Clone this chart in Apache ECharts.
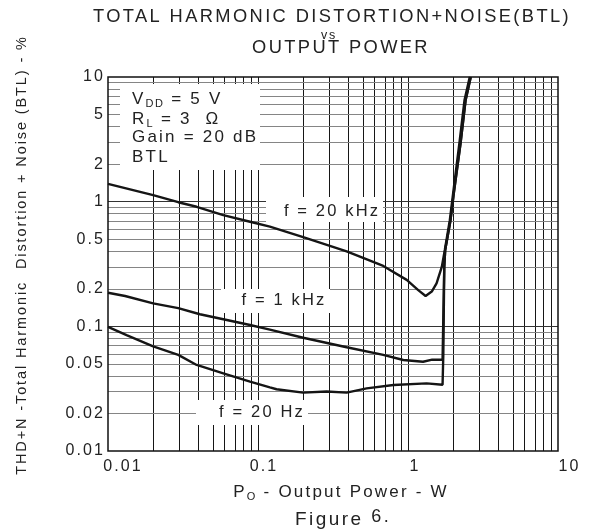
<!DOCTYPE html>
<html>
<head>
<meta charset="utf-8">
<script src="https://cdn.jsdelivr.net/npm/echarts@6/dist/echarts.min.js"></script>
<style>html,body{margin:0;padding:0;background:#fff;}#c{width:598px;height:532px;}</style>
</head>
<body>
<div id="c"></div>
<script>
// ---- data ----
const thd20k = [[0.01,1.39],[0.02,1.13],[0.0294,0.99],[0.039,0.91],[0.0587,0.78],[0.0885,0.69],[0.12,0.63],[0.2,0.52],[0.39,0.40],[0.684,0.305],[0.98,0.236],[1.17,0.195],[1.31,0.175],[1.44,0.19],[1.55,0.221],[1.68,0.30],[1.76,0.41],[1.9,0.71],[2.0,1.17],[2.2,2.94],[2.38,6.5],[2.58,10]];
const thd1k = [[0.01,0.186],[0.013,0.175],[0.02,0.153],[0.0294,0.140],[0.041,0.125],[0.0587,0.114],[0.0885,0.1025],[0.12,0.094],[0.2,0.081],[0.39,0.068],[0.684,0.059],[0.93,0.0537],[1.26,0.052],[1.45,0.054],[1.70,0.054],[1.72,0.12],[1.745,0.3],[1.77,0.41],[1.92,0.71],[2.02,1.17],[2.24,2.94],[2.42,6.5],[2.62,10]];
const thd20 = [[0.01,0.099],[0.0133,0.085],[0.02,0.069],[0.0294,0.059],[0.039,0.049],[0.0587,0.042],[0.0885,0.036],[0.12,0.0324],[0.133,0.0313],[0.2,0.0294],[0.287,0.030],[0.39,0.0294],[0.53,0.0318],[0.8,0.0338],[1.33,0.0349],[1.70,0.034],[1.72,0.06],[1.745,0.3],[1.77,0.41],[1.92,0.71],[2.02,1.17],[2.24,2.94],[2.42,6.5],[2.62,10]];

const xLabelValues = [0.01,0.1,1,10];
const yLabelValues = [0.01,0.02,0.05,0.1,0.2,0.5,1,2,5,10];
const xGridValues = [0.02,0.03,0.04,0.05,0.06,0.07,0.08,0.09,0.1,0.2,0.3,0.4,0.5,0.6,0.7,0.8,0.9,1,2,3,4,5,6,7,8,9];
const yGridMinor = [0.02,0.03,0.04,0.05,0.06,0.07,0.08,0.09,0.2,0.3,0.4,0.5,0.6,0.7,0.8,0.9,2,3,4,5,6,7,8,9];
const yGridMajor = [0.1,1];

// wide letter spacing as in the reference lettering
(function(){
  const P = CanvasRenderingContext2D.prototype;
  if (!('letterSpacing' in P)) return;
  function setLS(ctx){ const m = /([\d.]+)px/.exec(ctx.font); const fs = m ? parseFloat(m[1]) : 12; ctx.letterSpacing = (fs*0.13).toFixed(2)+'px'; }
  const f = P.fillText, s = P.strokeText, mt = P.measureText;
  P.fillText = function(){ setLS(this); return f.apply(this, arguments); };
  P.strokeText = function(){ setLS(this); return s.apply(this, arguments); };
  P.measureText = function(){ setLS(this); return mt.apply(this, arguments); };
})();

const FONT = '"Liberation Sans", Arial, sans-serif';
const TXT = '#222';

const chart = echarts.init(document.getElementById('c'), null, {renderer:'canvas'});

function fmt(v){ return String(Number(Number(v).toPrecision(3))); }
// the printed x tick labels sit a little to the right of their grid lines
const xLabelShift = {'0.01':'s30', '0.1':'s12', '1':'s14', '10':'s23'};
function fmtX(v){ const t = fmt(v); return '{' + (xLabelShift[t] || 's0') + '|' + t + '}'; }
function shiftStyle(p){ return {fontFamily:FONT, fontSize:16, color:TXT, padding:[0,0,0,p]}; }

const gridLines = []
  .concat(xGridValues.map(v => ({xAxis: v, lineStyle:{color:'#161616', width:1, type:'solid'}})))
  .concat(yGridMinor.map(v => ({yAxis: v, lineStyle:{color:'#858585', width:1.2, type:'solid'}})))
  .concat(yGridMajor.map(v => ({yAxis: v, lineStyle:{color:'#333', width:1.2, type:'solid'}})));

const curveStyle = {color:'#151515', width:2.4};
function curve(name, data){
  return {name, type:'line', data, showSymbol:false, symbol:'none', z:5,
    lineStyle: curveStyle, itemStyle:{color:'#151515'}, animation:false, silent:true};
}

function box(x,y,w,h){ return {type:'rect', z:3, silent:true, shape:{x,y,width:w,height:h}, style:{fill:'#fff'}}; }
function txt(x,y,text,size,align,extra){ return Object.assign({type:'text', z:4, silent:true, x, y,
  style:{text, fill:TXT, font:size+'px '+FONT, align:align||'center', verticalAlign:'middle'}}, extra||{}); }
function rich(x,y,text,size,subSize,align){ return {type:'text', z:4, silent:true, x, y,
  style:{text, fill:TXT, align:align||'left', verticalAlign:'middle',
    rich:{a:{fontFamily:FONT,fontSize:size,fill:TXT}, b:{fontFamily:FONT,fontSize:subSize,fill:TXT,padding:[9,0,0,0]}, c:{fontFamily:FONT,fontSize:subSize,fill:TXT,padding:[0,0,6,0]}}}}; }

const option = {
  animation:false,
  backgroundColor:'#fff',
  grid:{left:108, right:40, top:77, bottom:81, show:true, borderColor:'#111', borderWidth:1.5, backgroundColor:'transparent', z:6},
  xAxis:{type:'log', logBase:10, min:0.01, max:10,
    axisLine:{show:false}, axisTick:{show:false}, splitLine:{show:false}, minorSplitLine:{show:false},
    axisLabel:{customValues:xLabelValues, formatter:fmtX, color:TXT, fontFamily:FONT, fontSize:16, margin:7,
      rich:{s0:shiftStyle(0), s12:shiftStyle(12), s14:shiftStyle(14), s23:shiftStyle(23), s30:shiftStyle(30)}}
  },
  yAxis:{type:'log', logBase:10, min:0.01, max:10,
    axisLine:{show:false}, axisTick:{show:false}, splitLine:{show:false}, minorSplitLine:{show:false},
    axisLabel:{customValues:yLabelValues, formatter:fmt, color:TXT, fontFamily:FONT, fontSize:16, margin:3}
  },
  graphic:[
    txt(332,17,'TOTAL HARMONIC DISTORTION+NOISE(BTL)',18.3),
    txt(329,36,'vs',12.5),
    txt(341,48,'OUTPUT POWER',18.3),
    txt(21.5,255,'THD+N -Total Harmonic  Distortion + Noise (BTL) - %',14.5,'center',{rotation:Math.PI/2}),
    box(120,84,140,86),
    rich(132,99,'{a|V}{b|DD}{a| = 5 V}',17,11),
    rich(132,119,'{a|R}{b|L}{a| = 3  Ω}',17,11),
    txt(132,137,'Gain = 20 dB',17,'left'),
    txt(132,157,'BTL',17,'left'),
    box(266,197,117,25),
    txt(332,211,'f = 20 kHz',16.5),
    box(221,289,109,24),
    txt(284,300,'f = 1 kHz',16.5),
    box(196,400,112,25),
    txt(262,412,'f = 20 Hz',16.5),
    rich(341,492,'{a|P}{b|O}{a| - Output Power - W}',17,11,'center'),
    rich(343,520,'{a|Figure }{c|6.}',19,18,'center')
  ],
  series:[
    {type:'line', data:[], z:1, silent:true, animation:false,
      markLine:{silent:true, z:1, symbol:['none','none'], label:{show:false}, animation:false, data:gridLines}},
    curve('20 kHz', thd20k),
    curve('1 kHz', thd1k),
    curve('20 Hz', thd20)
  ]
};
chart.setOption(option);
</script>
</body>
</html>
